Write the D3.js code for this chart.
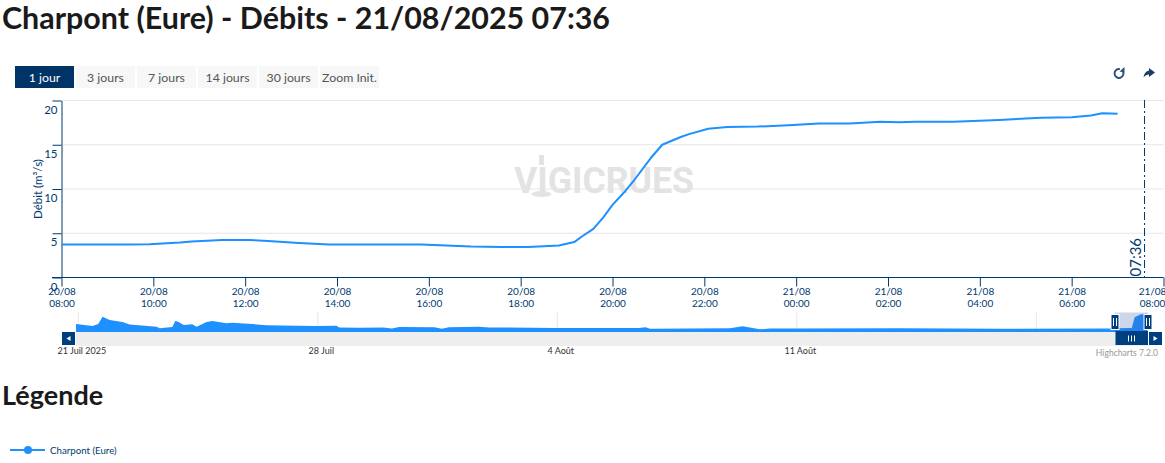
<!DOCTYPE html>
<html>
<head>
<meta charset="utf-8">
<script src="https://cdn.jsdelivr.net/npm/d3@7"></script>
<style>
    html, body { margin: 0; padding: 0; background: #fff; overflow: hidden; }
    svg { display: block; font-family: Lato, "Noto Sans", sans-serif; }
</style>
</head>
<body>
<svg id="chart" width="1165" height="463"></svg>
<script>
const titleText = "Charpont (Eure) - Débits - 21/08/2025 07:36"
const buttonLabels = ["1 jour", "3 jours", "7 jours", "14 jours", "30 jours", "Zoom Init."]
const yTicks = [0, 5, 10, 15, 20]

const flowTimes = [
    "2025-08-20 08:00", "2025-08-20 09:30", "2025-08-20 09:55", "2025-08-20 10:35", "2025-08-20 10:50",
    "2025-08-20 11:30", "2025-08-20 12:05", "2025-08-20 12:30", "2025-08-20 13:10", "2025-08-20 13:50",
    "2025-08-20 15:50", "2025-08-20 16:55", "2025-08-20 17:35", "2025-08-20 18:10", "2025-08-20 18:50",
    "2025-08-20 19:10", "2025-08-20 19:20", "2025-08-20 19:35", "2025-08-20 19:48", "2025-08-20 20:00",
    "2025-08-20 20:15", "2025-08-20 20:27", "2025-08-20 20:50", "2025-08-20 21:05", "2025-08-20 21:30",
    "2025-08-20 21:40", "2025-08-20 22:05", "2025-08-20 22:30", "2025-08-20 23:10", "2025-08-20 23:50",
    "2025-08-21 00:30", "2025-08-21 01:10", "2025-08-21 01:50", "2025-08-21 02:15", "2025-08-21 02:35",
    "2025-08-21 03:25", "2025-08-21 04:00", "2025-08-21 04:25", "2025-08-21 05:20", "2025-08-21 06:00",
    "2025-08-21 06:25", "2025-08-21 06:40", "2025-08-21 07:00"
]
const flowValues = [
    3.73, 3.73, 3.77, 3.95, 4.07,
    4.24, 4.24, 4.13, 3.9, 3.73,
    3.73, 3.5, 3.45, 3.45, 3.62,
    4.0, 4.63, 5.5, 6.8, 8.2,
    9.6, 10.85, 13.5, 15.0, 15.9,
    16.2, 16.8, 17.0, 17.05, 17.2,
    17.4, 17.4, 17.6, 17.55, 17.6,
    17.6, 17.7, 17.8, 18.05, 18.1,
    18.3, 18.55, 18.5
]

const navTimes = [
    "2025-07-20 22:00", "2025-07-21 10:00", "2025-07-21 14:00", "2025-07-21 17:00", "2025-07-21 22:00",
    "2025-07-22 07:00", "2025-07-22 12:00", "2025-07-23 07:00", "2025-07-23 09:00", "2025-07-23 18:00",
    "2025-07-23 20:00", "2025-07-23 22:00", "2025-07-24 02:00", "2025-07-24 08:00", "2025-07-24 11:00",
    "2025-07-24 18:00", "2025-07-24 22:00", "2025-07-25 08:00", "2025-07-25 12:00", "2025-07-26 02:00",
    "2025-07-26 12:00", "2025-07-27 09:00", "2025-07-27 23:00", "2025-07-28 13:00", "2025-07-28 15:00",
    "2025-07-29 05:00", "2025-07-29 22:00", "2025-07-30 04:00", "2025-07-30 09:00", "2025-07-31 10:00",
    "2025-07-31 15:00", "2025-07-31 20:00", "2025-08-01 17:00", "2025-08-02 00:00", "2025-08-03 23:00",
    "2025-08-06 09:00", "2025-08-06 14:00", "2025-08-06 17:00", "2025-08-09 01:00", "2025-08-09 10:00",
    "2025-08-09 22:00", "2025-08-10 05:00", "2025-08-11 01:00", "2025-08-14 00:00", "2025-08-16 22:00",
    "2025-08-20 05:00", "2025-08-20 08:00", "2025-08-20 19:00", "2025-08-20 21:00", "2025-08-21 01:00",
    "2025-08-21 07:00"
]
const navValues = [
    8, 6, 8, 15.3, 12,
    10, 7.5, 5.3, 3.8, 5,
    11, 10.3, 7, 7.7, 5.3,
    10, 11, 8.7, 9.3, 8,
    6.7, 6.3, 6, 6.3, 4.5,
    4.3, 4.6, 3.5, 5, 4.8,
    3.3, 4.7, 5.3, 4.6, 4,
    4, 4.7, 3.3, 3.7, 5.7,
    2.7, 3.4, 3.5, 3.7, 3.3,
    3.4, 3.7, 4, 14.8, 17.4,
    18.5
]
const navTickDates = ["2025-07-21 00:00", "2025-07-28 00:00", "2025-08-04 00:00", "2025-08-11 00:00", "2025-08-18 00:00"]
const navTickLabels = ["21 Juil 2025", "28 Juil", "4 Août", "11 Août", ""]

const xStart = "2025-08-20 08:00"
const xEnd = "2025-08-21 08:00"
const nowTime = "2025-08-21 07:36"
const nowLabel = "07:36"
const seriesName = "Charpont (Eure)"

const parseTime = d3.utcParse("%Y-%m-%d %H:%M")
const navy = "#003a70"
const blue = "#1e90ff"

const flowData = flowTimes.map((t, i) => ({ x: parseTime(t), y: flowValues[i] }))
const navData = navTimes.map((t, i) => ({ x: parseTime(t), y: navValues[i] }))

let svg = d3.select("#chart")

svg.append("text")
    .attr("x", 2).attr("y", 29)
    .attr("font-size", 30).attr("font-weight", 700).attr("fill", "#1a1a1a")
    .attr("textLength", 608).attr("lengthAdjust", "spacingAndGlyphs")
    .text(titleText)

// range selector
let buttons = svg.append("g").selectAll("g")
    .data(buttonLabels)
    .join("g")
    .attr("transform", (d, i) => `translate(${15 + i * 61},66)`)

buttons.append("rect")
    .attr("width", 59).attr("height", 22)
    .attr("fill", (d, i) => i === 0 ? "#003366" : "#f7f7f7")

buttons.append("text")
    .attr("x", 29.5).attr("y", 15.5)
    .attr("text-anchor", "middle").attr("font-size", 12.3)
    .attr("fill", (d, i) => i === 0 ? "#fff" : "#555")
    .text(d => d)

// export icons
svg.append("path")
    .attr("d", d3.arc()({ innerRadius: 3.5, outerRadius: 5.4, startAngle: 1.0, endAngle: 6.5 }))
    .attr("transform", "translate(1119,73.5)")
    .attr("fill", "#2c4f7c")
svg.append("path")
    .attr("d", "M1124.5,67 L1124.5,72.5 L1119.5,71.5 Z")
    .attr("fill", "#2c4f7c")
svg.append("path")
    .attr("d", "M1149,68 L1155,72.5 L1149,77 L1149,74.5 C1147,74.5 1145,75.5 1143.5,77.5 C1144,73.5 1146,71 1149,70.5 Z")
    .attr("fill", "#1d3d66")

// main plot
let plotX = d3.scaleUtc()
    .domain([parseTime(xStart), parseTime(xEnd)])
    .range([61.5, 1163.5])

let plotY = d3.scaleLinear()
    .domain([0, 20])
    .range([277.5, 100.5])

let grid = svg.append("g")
grid.selectAll("line")
    .data(yTicks.slice(1))
    .join("line")
    .attr("x1", 61.5).attr("x2", 1163.5)
    .attr("y1", d => plotY(d)).attr("y2", d => plotY(d))
    .attr("stroke", "#e6e6e6")

// watermark
let mark = svg.append("g").attr("fill", "#e3e3e3")
mark.append("text")
    .attr("x", 514).attr("y", 193)
    .attr("font-family", "Roboto, sans-serif")
    .attr("font-size", 36).attr("font-weight", 700)
    .attr("textLength", 180).attr("lengthAdjust", "spacingAndGlyphs")
    .text("VIGICRUES")
mark.append("rect").attr("x", 539).attr("y", 155).attr("width", 5).attr("height", 10)
mark.append("ellipse").attr("cx", 541.5).attr("cy", 194).attr("rx", 10).attr("ry", 3)

let xAxis = svg.append("g")
    .attr("transform", "translate(0,277.5)")
    .call(d3.axisBottom(plotX).ticks(d3.utcHour.every(2)).tickSize(9).tickSizeOuter(0))

xAxis.select(".domain").attr("d", "M52,0H1163.5").attr("stroke", navy)
xAxis.selectAll(".tick line").attr("stroke", navy)
xAxis.selectAll(".tick text").each(function (d, i, nodes) {
    // the last label is pushed back inside the plot, as Highcharts does
    let shift = i === nodes.length - 1 ? -11.5 : 0
    let label = d3.select(this).attr("y", null).attr("dy", null).text(null)
    label.attr("font-size", 10).attr("fill", navy).attr("font-family", "Lato, sans-serif")
    label.append("tspan").attr("x", shift).attr("y", 17).text(d3.utcFormat("%d/%m")(d))
    label.append("tspan").attr("x", shift).attr("y", 29).text(d3.utcFormat("%H:%M")(d))
})

let yAxis = svg.append("g")
    .attr("transform", "translate(61.5,0)")
    .call(d3.axisLeft(plotY).tickValues(yTicks).tickSize(9).tickSizeOuter(0))

yAxis.select(".domain").attr("stroke", navy)
yAxis.selectAll(".tick line").attr("stroke", navy)
yAxis.selectAll(".tick text")
    .attr("x", -4).attr("dy", 12.5)
    .attr("font-size", 11.5).attr("fill", navy).attr("font-family", "Lato, sans-serif")

svg.append("text")
    .attr("transform", "translate(42,189) rotate(-90)")
    .attr("text-anchor", "middle").attr("font-size", 11.5).attr("fill", navy)
    .text("Débit (m³/s)")

svg.append("path")
    .datum(flowData)
    .attr("fill", "none")
    .attr("stroke", blue)
    .attr("stroke-width", 2)
    .attr("stroke-linejoin", "round")
    .attr("d", d3.line().x(d => plotX(d.x)).y(d => plotY(d.y)))

// current time line
let nowX = Math.floor(plotX(parseTime(nowTime))) - 0.5
svg.append("line")
    .attr("x1", nowX).attr("x2", nowX)
    .attr("y1", 100).attr("y2", 277)
    .attr("stroke", navy)
    .attr("stroke-dasharray", "8,3,2,3")

svg.append("text")
    .attr("transform", `translate(${nowX - 4},276.5) rotate(-90)`)
    .attr("font-size", 15).attr("fill", navy)
    .text(nowLabel)

// navigator
let navX = d3.scaleUtc()
    .domain([parseTime(navTickDates[0]), parseTime(navTickDates[1])])
    .range([78.3, 317.8])

let navY = d3.scaleLinear()
    .domain([0, 18.5])
    .range([332, 313.5])

svg.append("clipPath").attr("id", "navClip")
    .append("rect").attr("x", 76).attr("y", 305).attr("width", 1071).attr("height", 30)

svg.append("g").selectAll("line")
    .data(navTickDates)
    .join("line")
    .attr("x1", d => navX(parseTime(d))).attr("x2", d => navX(parseTime(d)))
    .attr("y1", 312.5).attr("y2", 332)
    .attr("stroke", "#e6e6e6")

svg.append("g").selectAll("text")
    .data(navTickLabels)
    .join("text")
    .attr("x", (d, i) => navX(parseTime(navTickDates[i])) + 3.5)
    .attr("y", 354)
    .attr("text-anchor", "middle").attr("font-size", 9).attr("fill", "#333")
    .text(d => d)

svg.append("path")
    .datum(navData)
    .attr("clip-path", "url(#navClip)")
    .attr("fill", blue)
    .attr("d", d3.area().x(d => navX(d.x)).y0(navY(0)).y1(d => navY(d.y)))

svg.append("rect")
    .attr("x", 1115).attr("y", 312.5).attr("width", 33).attr("height", 19.5)
    .attr("fill", "#335cad").attr("fill-opacity", 0.25)

// scrollbar
svg.append("rect").attr("x", 76).attr("y", 332).attr("width", 1072).attr("height", 14).attr("fill", "#eeeeee")
svg.append("rect").attr("x", 62).attr("y", 332).attr("width", 13).attr("height", 13).attr("fill", "#003f7f")
svg.append("rect").attr("x", 1149).attr("y", 332).attr("width", 13).attr("height", 13).attr("fill", "#003f7f")
svg.append("rect").attr("x", 1115.5).attr("y", 331).attr("width", 32.5).attr("height", 14).attr("fill", "#003f7f")
svg.append("path").attr("d", "M70.5,336 L66.5,338.5 L70.5,341 Z").attr("fill", "#fff")
svg.append("path").attr("d", "M1153.5,336 L1157.5,338.5 L1153.5,341 Z").attr("fill", "#fff")
svg.append("path").attr("d", "M1128.5,335.5V341.5M1131.5,335.5V341.5M1134.5,335.5V341.5").attr("stroke", "#fff")

// navigator handles
let handles = svg.append("g").selectAll("g")
    .data([1115, 1148])
    .join("g")
    .attr("transform", d => `translate(${d},0)`)

handles.append("rect")
    .attr("x", -4).attr("y", 314.5).attr("width", 8).attr("height", 15)
    .attr("fill", "#003f7f").attr("stroke", "#fff")

handles.append("path")
    .attr("d", "M-1.5,318V326M1.5,318V326")
    .attr("stroke", "#fff")

svg.append("text")
    .attr("x", 1158).attr("y", 356)
    .attr("text-anchor", "end").attr("font-size", 8.6).attr("fill", "#999")
    .text("Highcharts 7.2.0")

// legend
svg.append("text")
    .attr("x", 2).attr("y", 405)
    .attr("font-size", 27).attr("font-weight", 700).attr("fill", "#1a1a1a")
    .text("Légende")

svg.append("line")
    .attr("x1", 10).attr("x2", 45).attr("y1", 450).attr("y2", 450)
    .attr("stroke", blue).attr("stroke-width", 2)
svg.append("circle")
    .attr("cx", 28).attr("cy", 450).attr("r", 4).attr("fill", blue)
svg.append("text")
    .attr("x", 50).attr("y", 453.5)
    .attr("font-size", 9.7).attr("fill", navy)
    .text(seriesName)
</script>
</body>
</html>
